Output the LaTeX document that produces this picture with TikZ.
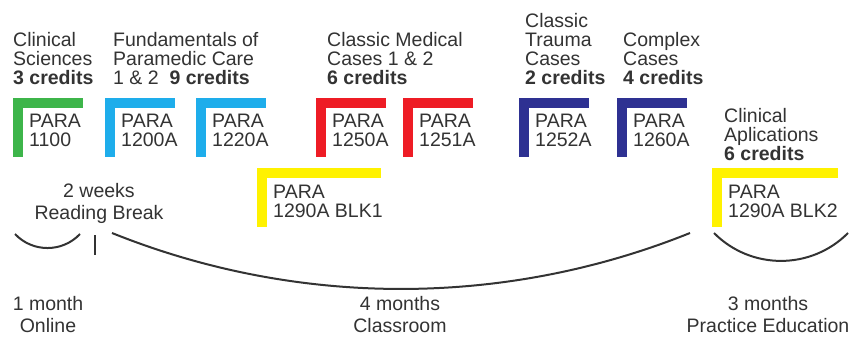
\documentclass[tikz,border=0pt]{standalone}
\usepackage{fontspec}
\setmainfont{Liberation Sans}
\definecolor{ink}{HTML}{333333}
\definecolor{cgreen}{HTML}{3DB54A}
\definecolor{cblue}{HTML}{1EADEB}
\definecolor{cred}{HTML}{EE1C25}
\definecolor{cnavy}{HTML}{2E3192}
\definecolor{cyellow}{HTML}{FFF200}
\newcommand\lft[1]{\vtop{\halign{##\hfil\cr#1\crcr}}}
\newcommand\ctr[1]{\vtop{\halign{\hfil##\hfil\cr#1\crcr}}}
\newcommand\course[7]{%
  \fill[#2] (#3,#4) rectangle ++(#5,10);
  \fill[#2] (#3,#4) rectangle ++(10,59);
  \node[txt] (#1) at (#3+16,#4+30) {\lft{#6\cr#7}};
}
\begin{document}
\begin{tikzpicture}[x=1pt,y=-1pt,
  txt/.style={inner sep=0pt,anchor=base west,text=ink,font=\fontsize{19.5}{19}\selectfont},
  ctxt/.style={inner sep=0pt,anchor=base,text=ink,font=\fontsize{19.5}{22.5}\selectfont},
  brace/.style={draw=ink,line width=2pt}]
\fill[white] (0,0) rectangle (850,339);
\useasboundingbox (0,0) rectangle (850,339);

% headings
\node[txt] (hClin) at (13,47) {\lft{Clinical\cr Sciences\cr\textbf{3 credits}}};
\node[txt] (hFund) at (113,47) {\lft{Fundamentals of\cr Paramedic Care\cr 1 \& 2\ \ \textbf{9 credits}}};
\node[txt] (hCMed) at (327,47) {\lft{Classic Medical\cr Cases 1 \& 2\cr\textbf{6 credits}}};
\node[txt] (hTrauma) at (525,28) {\lft{Classic\cr Trauma\cr Cases\cr\textbf{2 credits}}};
\node[txt] (hCompl) at (623,47) {\lft{Complex\cr Cases\cr\textbf{4 credits}}};
\node[txt] (hClinApp) at (724,123) {\lft{Clinical\cr Aplications\cr\textbf{6 credits}}};

% courses
\course{c1100}{cgreen}{13}{98}{70}{PARA}{1100}
\course{c1200}{cblue}{105}{98}{70}{PARA}{1200A}
\course{c1220}{cblue}{196}{98}{70}{PARA}{1220A}
\course{c1250}{cred}{316}{98}{70}{PARA}{1250A}
\course{c1251}{cred}{403}{98}{70}{PARA}{1251A}
\course{c1252}{cnavy}{519}{98}{70}{PARA}{1252A}
\course{c1260}{cnavy}{617}{98}{70}{PARA}{1260A}
\course{cblk1}{cyellow}{257}{168}{124}{PARA}{1290A BLK1}
\course{cblk2}{cyellow}{712}{168}{126}{PARA}{1290A BLK2}

% bottom labels
\node[ctxt] (rb) at (99,197) {\ctr{2 weeks\cr Reading Break}};
\node[ctxt] (online) at (48,310) {\ctr{1 month\cr Online}};
\node[ctxt] (classroom) at (400,310) {\ctr{4 months\cr Classroom}};
\node[ctxt] (practice) at (768,310) {\ctr{3 months\cr Practice Education}};

% braces
\coordinate (a1) at (15,234); \coordinate (a2) at (80,234);
\coordinate (t1) at (95,235); \coordinate (t2) at (95,255);
\coordinate (b1) at (112,233); \coordinate (b2) at (690,233);
\coordinate (r1) at (714,233); \coordinate (r2) at (848,233);
\draw[brace] (a1) .. controls (32.6,252.7) and (62.4,252.7) .. (a2);
\draw[brace] (t1) -- (t2);
\draw[brace] (b1) .. controls (297.6,307.6) and (504.4,307.6) .. (b2);
\draw[brace] (r1) .. controls (750.9,270.2) and (811.1,270.2) .. (r2);
\end{tikzpicture}
\end{document}
